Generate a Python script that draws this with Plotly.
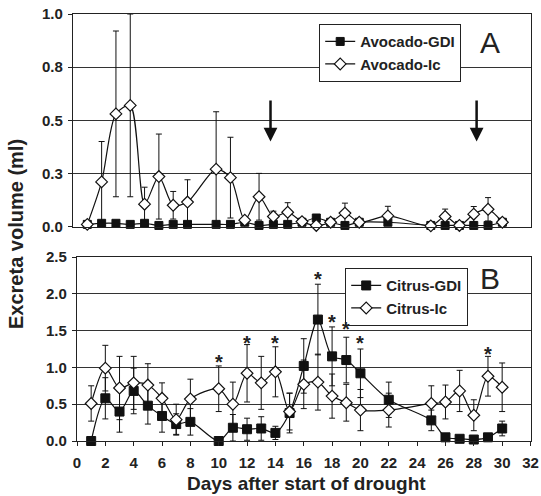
import plotly.graph_objects as go

# ---------------- data ----------------
days = [1, 2, 3, 4, 5, 6, 7, 8, 10, 11, 12, 13, 14, 15, 16, 17, 18, 19, 20, 22, 25, 26, 27, 28, 29, 30]

avo_gdi = [0.01, 0.015, 0.015, 0.01, 0.015, 0.005, 0.01, 0.01, 0.01, 0.01, 0.02, 0.005, 0.01,
           0.01, 0.02, 0.04, 0.02, 0.005, 0.02, 0.02, 0.005, 0.005, 0.005, 0.005, 0.005, 0.02]
avo_gdi_err = [0.005, 0.005, 0.005, 0.005, 0.005, 0.005, 0.005, 0.005, 0.005, 0.005, 0.005, 0.005, 0.005,
               0.005, 0.005, 0.005, 0.005, 0.005, 0.005, 0.005, 0.005, 0.005, 0.005, 0.005, 0.005, 0.01]
avo_ic = [0.01, 0.21, 0.53, 0.57, 0.105, 0.235, 0.10, 0.115, 0.27, 0.23, 0.03, 0.14, 0.047,
          0.067, 0.023, 0.005, 0.02, 0.063, 0.02, 0.05, 0.003, 0.047, 0.005, 0.058, 0.081, 0.02]
avo_ic_err = [0.0, 0.19, 0.39, 0.43, 0.08, 0.20, 0.065, 0.105, 0.27, 0.19, 0.01, 0.11, 0.025,
              0.045, 0.005, 0.005, 0.005, 0.047, 0.005, 0.045, 0.0, 0.035, 0.0, 0.036, 0.055, 0.01]

cit_gdi = [0.0, 0.58, 0.40, 0.68, 0.48, 0.34, 0.23, 0.26, 0.0, 0.18, 0.16, 0.17, 0.11,
           0.38, 1.02, 1.65, 1.15, 1.10, 0.92, 0.56, 0.28, 0.05, 0.03, 0.02, 0.05, 0.17]
cit_gdi_err = [0.0, 0.28, 0.28, 0.31, 0.25, 0.22, 0.14, 0.18, 0.0, 0.18, 0.15, 0.16, 0.09,
               0.27, 0.37, 0.48, 0.40, 0.31, 0.33, 0.24, 0.14, 0.0, 0.0, 0.0, 0.02, 0.10]
cit_ic = [0.51, 0.99, 0.72, 0.79, 0.76, 0.58, 0.29, 0.57, 0.71, 0.50, 0.92, 0.79, 0.94,
          0.40, 0.77, 0.80, 0.61, 0.52, 0.42, 0.42, 0.51, 0.53, 0.68, 0.35, 0.88, 0.73]
cit_ic_err = [0.24, 0.31, 0.43, 0.36, 0.29, 0.21, 0.21, 0.27, 0.31, 0.30, 0.39, 0.36, 0.34,
              0.25, 0.33, 0.38, 0.30, 0.25, 0.28, 0.23, 0.24, 0.23, 0.28, 0.21, 0.27, 0.33]

star_days = [10, 12, 14, 17, 18, 19, 20, 29]
star_y = [1.14, 1.40, 1.40, 2.27, 1.69, 1.59, 1.40, 1.25]

arrow_days = [13.8, 28.2]
arrow_top = 0.60
arrow_tip = 0.40

a_yticks = [0, 0.25, 0.5, 0.75, 1.0]
a_ytick_labels = ["0.0", "0.3", "0.5", "0.8", "1.0"]
b_yticks = [0, 0.5, 1.0, 1.5, 2.0, 2.5]
b_ytick_labels = ["0.0", "0.5", "1.0", "1.5", "2.0", "2.5"]
x_ticks = list(range(0, 33, 2))
x_tick_labels = [str(t) for t in x_ticks]

# ---------------- figure ----------------
W, H = 541, 496
FONT = "Liberation Sans, Arial, sans-serif"

# plot area in pixels
L, R, T, B = 73, 531, 14, 441
PW, PH = R - L, B - T

def fx(x):   # pixel x -> plot-area fraction
    return (x - L) / PW

def fy(y):   # pixel y -> plot-area fraction (from bottom)
    return (B - y) / PH

def bold(lst):
    return ["<b>%s</b>" % s for s in lst]

fig = go.Figure()

def err(arr):
    return dict(type="data", array=arr, color="#111", thickness=1, width=3, visible=True)

line_common = dict(color="#111", width=1.2, shape="spline", smoothing=0.8)

fig.add_trace(go.Scatter(x=days, y=avo_gdi, error_y=err(avo_gdi_err), name="Avocado-GDI",
                         mode="lines+markers", line=line_common,
                         marker=dict(symbol="square", size=8, color="#111", line=dict(color="#111", width=1)),
                         xaxis="x", yaxis="y", legend="legend", cliponaxis=False))
fig.add_trace(go.Scatter(x=days, y=avo_ic, error_y=err(avo_ic_err), name="Avocado-Ic",
                         mode="lines+markers", line=line_common,
                         marker=dict(symbol="diamond", size=9, color="white", line=dict(color="#111", width=1.2)),
                         xaxis="x", yaxis="y", legend="legend", cliponaxis=False))
fig.add_trace(go.Scatter(x=days, y=cit_gdi, error_y=err(cit_gdi_err), name="Citrus-GDI",
                         mode="lines+markers", line=line_common,
                         marker=dict(symbol="square", size=9, color="#111", line=dict(color="#111", width=1)),
                         xaxis="x2", yaxis="y2", legend="legend2", cliponaxis=False))
fig.add_trace(go.Scatter(x=days, y=cit_ic, error_y=err(cit_ic_err), name="Citrus-Ic",
                         mode="lines+markers", line=line_common,
                         marker=dict(symbol="diamond", size=9, color="white", line=dict(color="#111", width=1.2)),
                         xaxis="x2", yaxis="y2", legend="legend2", cliponaxis=False))

tickfont = dict(family=FONT, size=15, color="#222")
axis_common = dict(showline=True, linecolor="#222", linewidth=1.2, mirror=True, zeroline=False,
                   automargin=False, ticklabeloverflow="allow")

fig.update_layout(
    width=W, height=H,
    margin=dict(l=L, r=W - R, t=T, b=H - B, autoexpand=False),
    paper_bgcolor="white", plot_bgcolor="white",
    showlegend=True,
    xaxis=dict(domain=[0, 1], range=[0, 32], anchor="y", showticklabels=False,
               ticks="", showgrid=False, **axis_common),
    yaxis=dict(domain=[fy(226.5), 1], range=[0, 1], anchor="x", tickvals=a_yticks,
               ticktext=bold(a_ytick_labels), ticks="outside", ticklen=4, tickcolor="#222",
               ticklabelstandoff=2,
               showgrid=True, gridcolor="#333", gridwidth=1, tickfont=tickfont, **axis_common),
    xaxis2=dict(domain=[fx(77), fx(530.5)], range=[0, 32], anchor="y2", tickvals=x_ticks,
                ticktext=bold(x_tick_labels), ticks="outside", ticklen=4, tickcolor="#222",
                ticklabelstandoff=4,
                showgrid=False, tickfont=tickfont, **axis_common),
    yaxis2=dict(domain=[0, fy(257)], range=[0, 2.5], anchor="x2", tickvals=b_yticks,
                ticktext=bold(b_ytick_labels), ticks="outside", ticklen=4, tickcolor="#222",
                ticklabelstandoff=2,
                showgrid=True, gridcolor="#333", gridwidth=1, tickfont=tickfont, **axis_common),
    legend=dict(x=fx(319), y=fy(24), xanchor="left", yanchor="top",
                bgcolor="white", bordercolor="#222", borderwidth=1.2, itemwidth=30,
                font=dict(family=FONT, size=15, color="#222", weight="bold"), tracegroupgap=4),
    legend2=dict(x=fx(345), y=fy(268), xanchor="left", yanchor="top",
                 bgcolor="white", bordercolor="#222", borderwidth=1.2, itemwidth=30,
                 font=dict(family=FONT, size=15, color="#222", weight="bold"), tracegroupgap=4),
)

annotations = []
anch = dict(xanchor="center", yanchor="middle", showarrow=False)
# Panel letters
annotations.append(dict(text="A", x=fx(490), y=fy(43), xref="paper", yref="paper",
                        font=dict(family=FONT, size=30, color="#222"), **anch))
annotations.append(dict(text="B", x=fx(490), y=fy(278), xref="paper", yref="paper",
                        font=dict(family=FONT, size=30, color="#222"), **anch))
# Axis titles
annotations.append(dict(text="<b>Excreta volume (ml)</b>", x=fx(16), y=fy(234), xref="paper", yref="paper",
                        textangle=-90, font=dict(family=FONT, size=20, color="#222"), **anch))
annotations.append(dict(text="<b>Days after start of drought</b>", x=fx(306), y=fy(483), xref="paper",
                        yref="paper", font=dict(family=FONT, size=19, color="#222"), **anch))
# Significance stars
for d, v in zip(star_days, star_y):
    annotations.append(dict(text="<b>*</b>", x=d, y=v, xref="x2", yref="y2", yshift=-5,
                            font=dict(family=FONT, size=20, color="#222"), **anch))
# Arrows
for d in arrow_days:
    annotations.append(dict(text="", x=d, y=arrow_tip, ax=d, ay=arrow_top, xref="x", yref="y",
                            axref="x", ayref="y", showarrow=True, arrowhead=2, arrowsize=1.1,
                            arrowwidth=2.5, arrowcolor="#111"))
fig.update_layout(annotations=annotations)

# remove the browser's default page margin so the figure starts at the window corner
fig.write_html("out.html", config={"displayModeBar": False},
               post_script="document.body.style.margin='0';")
